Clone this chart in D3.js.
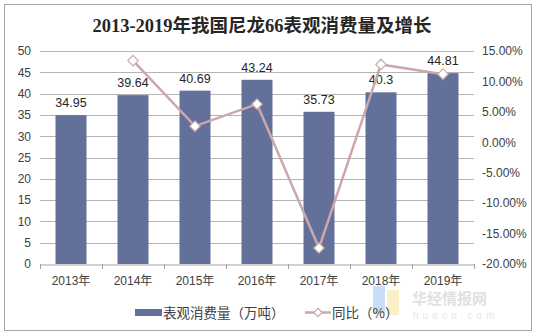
<!DOCTYPE html>
<html>
<head>
<meta charset="utf-8">
<script src="https://cdn.jsdelivr.net/npm/d3@7/dist/d3.min.js"></script>
<style>
  html, body { margin: 0; padding: 0; background: #fff; }
  svg { display: block; }
</style>
</head>
<body>
<svg id="chart" width="535" height="335"></svg>
<script>
// Nylon 66 apparent consumption (10k tonnes) and year-on-year change
const years = ["2013年", "2014年", "2015年", "2016年", "2017年", "2018年", "2019年"];
const consumption = [34.95, 39.64, 40.69, 43.24, 35.73, 40.3, 44.81];
const yoyYears = ["2014年", "2015年", "2016年", "2017年", "2018年", "2019年"];
const yoyPct = [13.42, 2.65, 6.27, -17.37, 12.79, 11.19];
const leftTicks = [0, 5, 10, 15, 20, 25, 30, 35, 40, 45, 50];
const rightTicks = [-20, -15, -10, -5, 0, 5, 10, 15];

const svg = d3.select("#chart");
const sans = "'Liberation Sans', Arial, 'Noto Sans CJK SC', sans-serif";
const barColor = "#63719a";
const lineColor = "#caa8ac";

// outer frame
svg.append("rect").attr("x", 4.5).attr("y", 4.5).attr("width", 527).attr("height", 326)
  .attr("fill", "#fff").attr("stroke", "#a6a6a6").attr("stroke-width", 1);

// title
svg.append("text").attr("x", 262).attr("y", 32).attr("text-anchor", "middle")
  .attr("font-family", "'Liberation Serif', 'Noto Sans CJK SC', serif")
  .attr("font-weight", "bold").attr("font-size", 18.5).attr("fill", "#262626")
  .text("2013-2019年我国尼龙66表观消费量及增长");

const plot = { left: 40, right: 474, top: 51, bottom: 264 };

const x = d3.scaleBand().domain(years).range([plot.left, plot.right]).paddingInner(0.5).paddingOuter(0.25);
const xc = d3.scaleBand().domain(years).range([plot.left, plot.right]);
const y = d3.scaleLinear().domain([0, 50]).range([plot.bottom, plot.top]);
const y2 = d3.scaleLinear().domain([-20, 15]).range([plot.bottom, plot.top]);

// gridlines
svg.append("g").selectAll("line").data(leftTicks.filter(d => d > 0)).join("line")
  .attr("x1", plot.left).attr("x2", plot.right)
  .attr("y1", d => Math.round(y(d)) + 0.5).attr("y2", d => Math.round(y(d)) + 0.5)
  .attr("stroke", "#b4b4b4").attr("stroke-width", 1);

// left axis
const gl = svg.append("g").attr("transform", `translate(${plot.left - 9},0)`)
  .call(d3.axisLeft(y).tickValues(leftTicks).tickSize(0).tickPadding(0));
gl.select(".domain").remove();
gl.selectAll("text").attr("font-family", sans).attr("font-size", 12).attr("fill", "#404040");

// right axis
const gr = svg.append("g").attr("transform", `translate(${plot.right + 8},0)`)
  .call(d3.axisRight(y2).tickValues(rightTicks).tickSize(0).tickPadding(0)
    .tickFormat(d => d.toFixed(2) + "%"));
gr.select(".domain").remove();
gr.selectAll("text").attr("font-family", sans).attr("font-size", 12).attr("fill", "#404040");

// bars
svg.append("g").selectAll("rect").data(consumption).join("rect")
  .attr("x", (d, i) => x(years[i]))
  .attr("width", x.bandwidth())
  .attr("y", d => y(d))
  .attr("height", d => y(0) - y(d))
  .attr("fill", barColor);

// x axis
const gx = svg.append("g").attr("transform", `translate(0,${plot.bottom + 0.5})`)
  .call(d3.axisBottom(xc).tickSize(0).tickPadding(12));
gx.select(".domain").attr("stroke", "#a0a0a0");
gx.selectAll("text").attr("font-family", sans).attr("font-size", 12).attr("fill", "#404040");
svg.append("g").selectAll("line").data(d3.range(years.length + 1)).join("line")
  .attr("x1", i => Math.round(plot.left + i * xc.step()) + 0.5)
  .attr("x2", i => Math.round(plot.left + i * xc.step()) + 0.5)
  .attr("y1", plot.bottom).attr("y2", plot.bottom + 5)
  .attr("stroke", "#a0a0a0");

// bar value labels
svg.append("g").selectAll("text").data(consumption).join("text")
  .attr("x", (d, i) => x(years[i]) + x.bandwidth() / 2)
  .attr("y", d => y(d) - 8)
  .attr("text-anchor", "middle")
  .attr("font-family", sans).attr("font-size", 12.5).attr("fill", "#262626")
  .text(d => d);

// growth line
const pts = yoyPct.map((v, i) => [xc(yoyYears[i]) + xc.bandwidth() / 2, y2(v)]);
svg.append("path").attr("d", d3.line()(pts))
  .attr("fill", "none").attr("stroke", lineColor).attr("stroke-width", 2.5);
const diamond = d3.symbol().type(d3.symbolDiamond2).size(70);
svg.append("g").selectAll("path").data(pts).join("path")
  .attr("transform", d => `translate(${d[0]},${d[1]})`)
  .attr("d", diamond)
  .attr("fill", "#fff").attr("stroke", lineColor).attr("stroke-width", 1.2);

// watermark
const wm = svg.append("g").attr("opacity", 0.55);
wm.append("rect").attr("x", 373).attr("y", 286).attr("width", 12).attr("height", 27).attr("fill", "#9dc3f5");
wm.append("rect").attr("x", 387).attr("y", 290).attr("width", 12).attr("height", 25).attr("fill", "#f6e39a");
wm.append("text").attr("x", 412).attr("y", 304).attr("font-family", "'Noto Sans CJK SC', sans-serif")
  .attr("font-weight", "bold").attr("font-size", 15).attr("fill", "#c8c8c8").text("华经情报网");
wm.append("text").attr("x", 413).attr("y", 319).attr("font-family", sans)
  .attr("font-size", 10).attr("letter-spacing", 4).attr("fill", "#d2d2d2").text("huaon.com");

// legend
const lg = svg.append("g");
lg.append("rect").attr("x", 135).attr("y", 309).attr("width", 27).attr("height", 7).attr("fill", barColor);
lg.append("text").attr("x", 163).attr("y", 318).attr("font-family", "'Noto Sans CJK SC', sans-serif")
  .attr("font-size", 13.5).attr("fill", "#404040").text("表观消费量（万吨）");
lg.append("line").attr("x1", 305).attr("x2", 331).attr("y1", 312.5).attr("y2", 312.5)
  .attr("stroke", lineColor).attr("stroke-width", 2.5);
lg.append("path").attr("transform", "translate(318,312.5)").attr("d", d3.symbol().type(d3.symbolDiamond2).size(45))
  .attr("fill", "#fff").attr("stroke", lineColor).attr("stroke-width", 1.2);
lg.append("text").attr("x", 332).attr("y", 318).attr("font-family", "'Noto Sans CJK SC', sans-serif")
  .attr("font-size", 13.5).attr("fill", "#404040").text("同比（%）");
</script>
</body>
</html>
